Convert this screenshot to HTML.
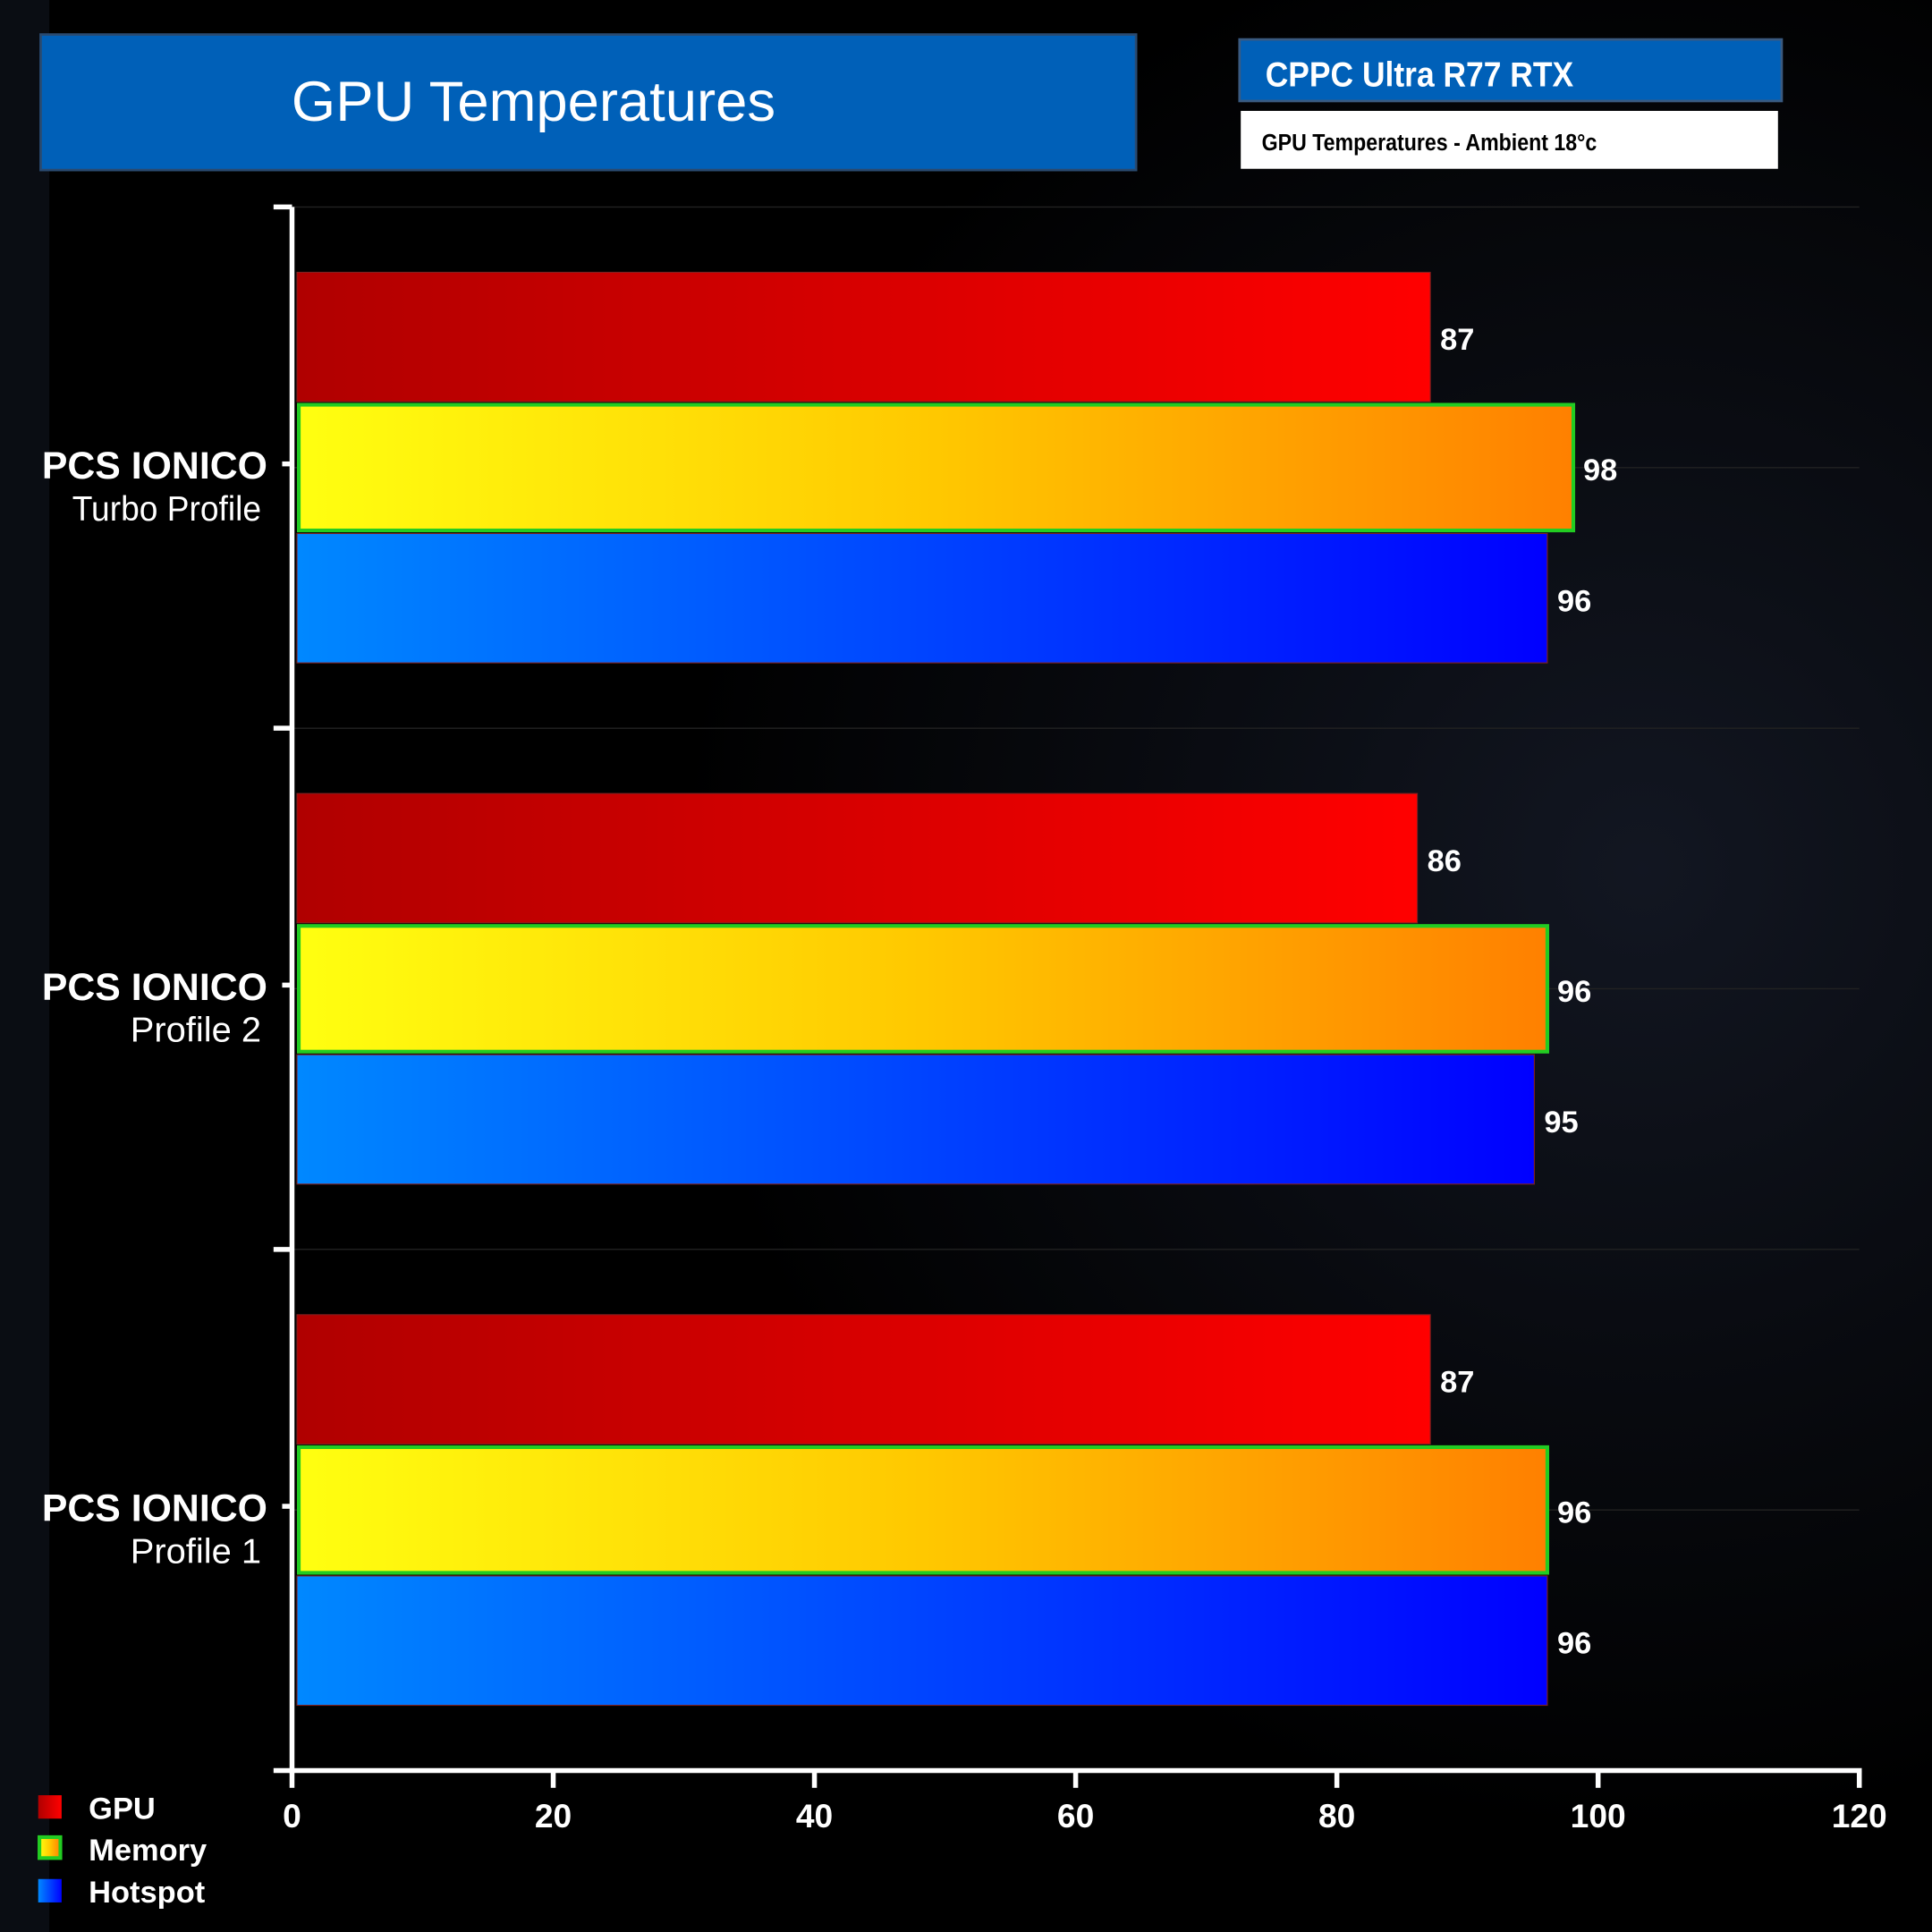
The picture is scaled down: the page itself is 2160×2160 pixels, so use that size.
<!DOCTYPE html>
<html><head><meta charset="utf-8"><style>
html,body{margin:0;padding:0;background:#000;}
svg{display:block;}
text{font-family:"Liberation Sans",sans-serif;}
</style></head><body>
<svg id="chart" width="2160" height="2160" viewBox="0 0 1568 1568" xmlns="http://www.w3.org/2000/svg">
<defs>
<linearGradient id="gRed" x1="0" x2="1"><stop offset="0" stop-color="#b00000"/><stop offset="1" stop-color="#ff0000"/></linearGradient>
<linearGradient id="gMem" x1="0" x2="1"><stop offset="0" stop-color="#ffff10"/><stop offset="0.5" stop-color="#ffc800"/><stop offset="1" stop-color="#ff8000"/></linearGradient>
<linearGradient id="gBlue" x1="0" x2="1"><stop offset="0" stop-color="#0088ff"/><stop offset="1" stop-color="#0000ff"/></linearGradient>
<radialGradient id="bgGlow" cx="0.85" cy="0.45" r="0.5"><stop offset="0" stop-color="#1a2030"/><stop offset="1" stop-color="#000"/></radialGradient>
</defs>
<rect width="1568" height="1568" fill="#000"/>
<rect width="1568" height="1568" fill="url(#bgGlow)" opacity="0.7"/>
<rect x="0" y="0" width="40" height="1568" fill="#0d1018" opacity="0.8"/>
<g>
<rect x="33" y="28" width="889" height="110" fill="#0060b8" stroke="#2a4a70" stroke-width="2"/>
<text x="433" y="98" fill="#fff" font-size="46" text-anchor="middle">GPU Temperatures</text>
</g>
<g>
<rect x="1006" y="32" width="440" height="50" fill="#0060b8" stroke="#3a5a80" stroke-width="2"/>
<text x="1027" y="70" fill="#fff" font-size="28" font-weight="bold" textLength="250" lengthAdjust="spacingAndGlyphs">CPPC Ultra R77 RTX</text>
<rect x="1007" y="90" width="436" height="47" fill="#fff"/>
<text x="1024" y="122" fill="#000" font-size="19" font-weight="bold" textLength="272" lengthAdjust="spacingAndGlyphs">GPU Temperatures - Ambient 18°c</text>
</g>
<g id="grid"></g>
<g id="bars"></g>
<g id="axes"></g>
<g>
<rect x="31" y="1457" width="19" height="19" fill="url(#gRed)"/>
<text x="72" y="1476" fill="#fff" font-size="25" font-weight="bold">GPU</text>
<rect x="32" y="1491" width="17" height="17" fill="url(#gMem)" stroke="#22cc22" stroke-width="3"/>
<text x="72" y="1510" fill="#fff" font-size="25" font-weight="bold">Memory</text>
<rect x="31" y="1525" width="19" height="19" fill="url(#gBlue)"/>
<text x="72" y="1544" fill="#fff" font-size="25" font-weight="bold">Hotspot</text>
</g>
</svg>
<script>
const categories = ["PCS IONICO", "PCS IONICO", "PCS IONICO"];
const subLabels = ["Turbo Profile", "Profile 2", "Profile 1"];
const gpuValues = [87, 86, 87];
const memoryValues = [98, 96, 96];
const hotspotValues = [96, 95, 96];
const xTicks = [0, 20, 40, 60, 80, 100, 120];

const NS = "http://www.w3.org/2000/svg";
const X0 = 237, X1 = 1509, XMAX = 120, YTOP = 168, YBOT = 1437;
const BX0 = 243;
const band = (YBOT - YTOP) / categories.length;
function xScale(v){ return X0 + (X1 - X0) * v / XMAX; }
function barEnd(v){ return BX0 + (X1 - BX0) * v / XMAX; }
function mk(tag, attrs, parent){ const e = document.createElementNS(NS, tag); for (const k in attrs) e.setAttribute(k, attrs[k]); parent.appendChild(e); return e; }
const gBars = document.getElementById('bars'), gAxes = document.getElementById('axes'), gGrid = document.getElementById('grid');

for (let i = 0; i <= categories.length * 2; i++) {
  const y = YTOP + i * band / 2;
  const l = mk('line', {x1: X0, x2: X1, y1: y, y2: y, stroke: '#222', 'stroke-width': 1}, gGrid);
  
  
}

const series = [
  {vals: gpuValues, fill: 'url(#gRed)', name: 'gpu'},
  {vals: memoryValues, fill: 'url(#gMem)', name: 'memory'},
  {vals: hotspotValues, fill: 'url(#gBlue)', name: 'hotspot'}
];
categories.forEach((c, i) => {
  const top = YTOP + i * band + 53;
  series.forEach((s, j) => {
    const y = top + j * 106;
    const w = barEnd(s.vals[i]) - 241;
    const r = mk('rect', {x: 241, y: y, width: w, height: 105, fill: s.fill}, gBars);
    if (s.name === 'memory') { r.setAttribute('x', 242.5); r.setAttribute('y', y + 1.5); r.setAttribute('height', 102); r.setAttribute('width', w - 1.5); r.setAttribute('stroke', '#22cc22'); r.setAttribute('stroke-width', 3); }
    else { r.setAttribute('stroke', '#802020'); r.setAttribute('stroke-width', 0.8); }
    
    
    const t = mk('text', {x: barEnd(s.vals[i]) + 8, y: y + 63, fill: '#fff', 'font-size': 25, 'font-weight': 'bold'}, gBars);
    t.textContent = s.vals[i];
    
    
  });
  const cy = YTOP + i * band + band / 2 - 3;
  const t1 = mk('text', {x: 217, y: cy + 12, fill: '#fff', 'font-size': 31, 'font-weight': 'bold', 'text-anchor': 'end', textLength: 183, lengthAdjust: 'spacingAndGlyphs'}, gAxes);
  t1.textContent = c;
  
  
  const t2 = mk('text', {x: 212, y: cy + 46, fill: '#fff', 'font-size': 28, 'text-anchor': 'end', textLength: subLabels[i].length * 11.8, lengthAdjust: 'spacingAndGlyphs'}, gAxes);
  t2.textContent = subLabels[i];
  
  
  const tk = mk('line', {x1: 229, x2: X0, y1: cy, y2: cy, stroke: '#fff', 'stroke-width': 4}, gAxes);
  
  
});
for (let i = 0; i <= categories.length; i++) {
  const y = YTOP + i * band;
  const tk = mk('line', {x1: 222, x2: X0, y1: y, y2: y, stroke: '#fff', 'stroke-width': 4}, gAxes);
  
  
}
const ya = mk('line', {x1: X0, x2: X0, y1: YTOP, y2: YBOT + 2, stroke: '#fff', 'stroke-width': 4}, gAxes);


const xa = mk('line', {x1: X0 - 2, x2: X1 + 2, y1: YBOT, y2: YBOT, stroke: '#fff', 'stroke-width': 4}, gAxes);


xTicks.forEach(v => {
  const x = xScale(v);
  const l = mk('line', {x1: x, x2: x, y1: YBOT, y2: YBOT + 14, stroke: '#fff', 'stroke-width': 4}, gAxes);
  
  
  const t = mk('text', {x: x, y: YBOT + 46, fill: '#fff', 'font-size': 27, 'font-weight': 'bold', 'text-anchor': 'middle'}, gAxes);
  t.textContent = v;
  
  
});
</script>
</body></html>
